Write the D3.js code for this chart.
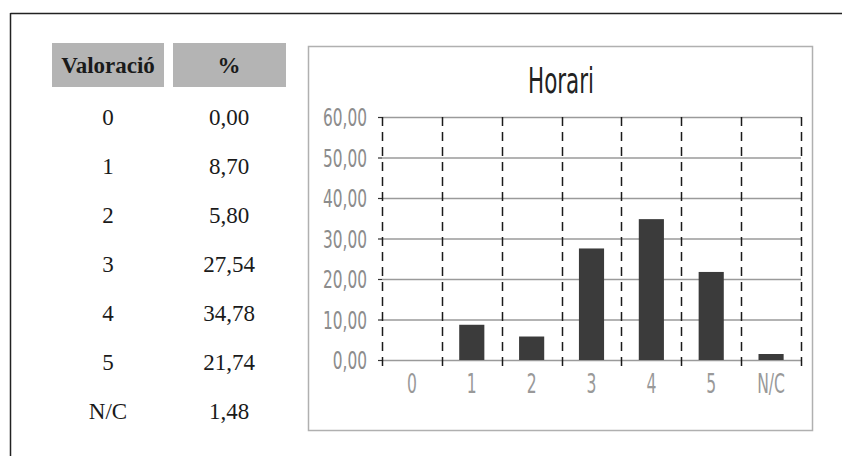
<!DOCTYPE html>
<html>
<head>
<meta charset="utf-8">
<script src="https://cdn.jsdelivr.net/npm/d3@7"></script>
<style>
  html, body { margin: 0; padding: 0; background: #fff; }
  svg { display: block; }
</style>
</head>
<body>
<svg id="chart" width="842" height="456"></svg>
<script>
// ---- data ----
const categories = ["0", "1", "2", "3", "4", "5", "N/C"];
const values = [0.00, 8.70, 5.80, 27.54, 34.78, 21.74, 1.48];
const valueLabels = ["0,00", "8,70", "5,80", "27,54", "34,78", "21,74", "1,48"];
const tableHeaders = ["Valoració", "%"];
const yTicks = [0, 10, 20, 30, 40, 50, 60];
const chartTitle = "Horari";

const svg = d3.select("#chart");
const fmt = v => d3.format(".2f")(v).replace(".", ",");

// ---- page frame ----
svg.append("line").attr("x1", 10.5).attr("x2", 842).attr("y1", 13.5).attr("y2", 13.5)
  .attr("stroke", "#222").attr("stroke-width", 1.5);
svg.append("line").attr("x1", 10.5).attr("x2", 10.5).attr("y1", 13).attr("y2", 456)
  .attr("stroke", "#222").attr("stroke-width", 1.5);

// ---- table ----
const colCenters = [108, 229];
const colRects = [[52, 112], [173, 113]];
const headerTop = 43, headerH = 44;
const rowY = d3.scalePoint().domain(categories).range([117, 411]);
const serif = "'Liberation Serif', 'DejaVu Serif', serif";

colRects.forEach((c, i) => {
  svg.append("rect").attr("x", c[0]).attr("y", headerTop).attr("width", c[1]).attr("height", headerH)
    .attr("fill", "#b4b4b4");
  svg.append("text").attr("x", colCenters[i]).attr("y", 73)
    .attr("text-anchor", "middle")
    .attr("font-family", serif)
    .attr("font-weight", "bold").attr("font-size", 23).attr("fill", "#1a1a1a")
    .text(tableHeaders[i]);
});

const rows = svg.append("g").attr("font-family", serif)
  .attr("font-size", 23).attr("fill", "#1a1a1a").attr("text-anchor", "middle");
categories.forEach((c, i) => {
  rows.append("text").attr("x", colCenters[0]).attr("y", rowY(c) + 8).text(c);
  rows.append("text").attr("x", colCenters[1]).attr("y", rowY(c) + 8).text(valueLabels[i]);
});

// ---- chart box ----
svg.append("rect").attr("x", 308.5).attr("y", 46.5).attr("width", 504).attr("height", 384)
  .attr("fill", "#fff").attr("stroke", "#b0b0b0").attr("stroke-width", 1.5);

const sans = "'DejaVu Sans', 'Liberation Sans', sans-serif";

svg.append("text").attr("x", 561).attr("y", 93)
  .attr("text-anchor", "middle").attr("font-family", sans)
  .attr("font-size", 35).attr("fill", "#222")
  .attr("textLength", 66).attr("lengthAdjust", "spacingAndGlyphs")
  .text(chartTitle);

const plotL = 382, plotR = 801, plotT = 117, plotB = 360;
const pad = 0.58;
const x = d3.scaleBand().domain(categories).range([plotL, plotR]).paddingInner(pad).paddingOuter(pad / 2);
const y = d3.scaleLinear().domain([0, 60]).range([plotB, plotT]);

// horizontal gridlines
svg.append("g").selectAll("line").data(yTicks).join("line")
  .attr("x1", plotL).attr("x2", plotR)
  .attr("y1", d => y(d) + 0.5).attr("y2", d => y(d) + 0.5)
  .attr("stroke", "#9a9a9a").attr("stroke-width", 1.6);

// y tick marks (left)
svg.append("g").selectAll("line").data(yTicks).join("line")
  .attr("x1", plotL - 4).attr("x2", plotL)
  .attr("y1", d => y(d) + 0.5).attr("y2", d => y(d) + 0.5)
  .attr("stroke", "#333").attr("stroke-width", 1.2);

// vertical dashed lines at band boundaries
const boundaries = categories.map(c => x(c) - x.step() * pad / 2).concat([plotR]);
svg.append("g").selectAll("line").data(boundaries).join("line")
  .attr("x1", d => Math.round(d) + 0.5).attr("x2", d => Math.round(d) + 0.5)
  .attr("y1", plotT).attr("y2", plotB + 6)
  .attr("stroke", "#1a1a1a").attr("stroke-width", 1.5)
  .attr("stroke-dasharray", "9,6");

// bars
svg.append("g").selectAll("rect").data(values).join("rect")
  .attr("x", (d, i) => x(categories[i]))
  .attr("width", x.bandwidth())
  .attr("y", d => y(d))
  .attr("height", d => y(0) - y(d))
  .attr("fill", "#3b3b3b");

// y axis labels (horizontally condensed)
const yAxis = d3.axisLeft(y).tickValues(yTicks).tickFormat(fmt).tickSize(0).tickPadding(0);
const ya = svg.append("g").attr("transform", `translate(${plotL - 15},0)`).call(yAxis);
ya.select(".domain").remove();
ya.selectAll("text").attr("font-family", sans).attr("font-size", 24).attr("fill", "#8c8c8c")
  .attr("dy", "0.36em").attr("transform", "scale(0.64,1)");

// x axis labels (horizontally condensed)
const xAxis = d3.axisBottom(x).tickSize(0).tickPadding(0);
const xa = svg.append("g").attr("transform", `translate(0,${plotB + 29})`).call(xAxis);
xa.select(".domain").remove();
xa.selectAll("text").attr("font-family", sans).attr("font-size", 26).attr("fill", "#999")
  .attr("dy", "0.15em").attr("transform", "scale(0.6,1)");
</script>
</body>
</html>
